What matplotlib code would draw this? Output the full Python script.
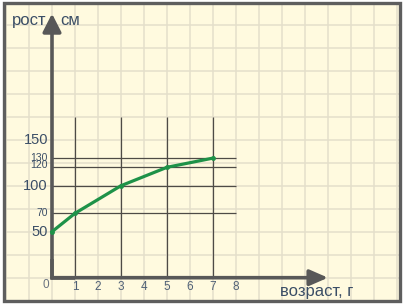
import matplotlib
matplotlib.use("Agg")
import matplotlib.pyplot as plt
from matplotlib.patches import Rectangle
from matplotlib.transforms import offset_copy
import numpy as np

# ---- data ----
ages = [0, 1, 3, 5, 7]
heights = [50, 70, 100, 120, 130]
x_ticks = [0, 1, 2, 3, 4, 5, 6, 7, 8]
y_ticks_big = [50, 100, 150]
y_ticks_small = [70, 120, 130]
guide_x = [1, 3, 5, 7]
guide_y = [70, 100, 120, 130]
x_label = "возраст, г"
y_label_left = "рост"
y_label_right = "см"

# ---- layout ----
W, H = 404, 304
ox, oy = 52, 277.7          # pixel position of origin (from top-left)
px_x = 23.0                 # pixels per year
px_y = 0.92                 # pixels per cm

plt.rcParams['font.family'] = ['Liberation Sans', 'DejaVu Sans']
fig = plt.figure(figsize=(W / 100, H / 100), dpi=100, facecolor='white')
ax = fig.add_axes([0, 0, 1, 1])
ax.set_xlim(-ox / px_x, (W - ox) / px_x)
ax.set_ylim(-(H - oy) / px_y, oy / px_y)
ax.axis('off')

cream = '#FFFADF'
gridc = '#E4DFCB'
frame_c = '#5E5E5E'
axis_c = '#585858'
guide_c = '#4E4B46'
text_c = '#3B4E66'
green = '#1E9248'

# background panel with frame (figure-pixel coordinates)
bg = Rectangle((3.5 / W, 3.5 / H), (W - 7.5) / W, (H - 6.5) / H,
               transform=fig.transFigure, facecolor=cream, edgecolor='none', zorder=0)
ax.add_patch(bg)
frame = Rectangle((3.5 / W, 3.5 / H), (W - 7.5) / W, (H - 6.5) / H,
                  transform=fig.transFigure, facecolor='none', edgecolor=frame_c,
                  linewidth=2.4, zorder=10, clip_on=False)
ax.add_patch(frame)

# paper grid
for gx in range(-2, 16):
    l = ax.axvline(gx, color=gridc, lw=1.1, zorder=1)
    l.set_clip_path(bg)
for gy in range(-25, 301, 25):
    l = ax.axhline(gy, color=gridc, lw=1.1, zorder=1)
    l.set_clip_path(bg)

# guide lines
ax.vlines(guide_x, 0, 175, color=guide_c, lw=0.9, zorder=2)
ax.hlines(guide_y, 0, 8, color=guide_c, lw=0.9, zorder=2)

# axes with arrows
ax.annotate('', xy=(0, 287), xytext=(0, 0),
            arrowprops=dict(arrowstyle='-|>,head_length=0.55,head_width=0.28', lw=2.6,
                            color=axis_c, shrinkA=0, shrinkB=0, mutation_scale=20),
            zorder=4)
ax.annotate('', xy=(12.0, 0), xytext=(0, 0),
            arrowprops=dict(arrowstyle='-|>,head_length=0.55,head_width=0.24', lw=2.6,
                            color=axis_c, shrinkA=0, shrinkB=0, mutation_scale=20),
            zorder=4)
ax.plot([0, 0, 1], [20, 0, 0], color=axis_c, lw=2.6, solid_joinstyle='miter',
        solid_capstyle='butt', zorder=4)

# data line
ax.plot(ages, heights, color=green, lw=2.3, zorder=5, marker='o', markersize=3.5,
        markeredgewidth=0)

# tick labels
for t in x_ticks:
    if t == 0:
        tr = offset_copy(ax.transData, fig=fig, x=-3, y=-7.5, units='dots')
        ax.text(t, 0, str(t), transform=tr, ha='right', va='center',
                fontsize=8.5, color='#6A7380')
    else:
        tr = offset_copy(ax.transData, fig=fig, x=0, y=-9.5, units='dots')
        ax.text(t, 0, str(t), transform=tr, ha='center', va='center',
                fontsize=8.5, color='#4F6075')

ytr = offset_copy(ax.transData, fig=fig, x=-4, y=0, units='dots')
for t in y_ticks_big:
    ax.text(0, t, str(t), transform=ytr, ha='right', va='center',
            fontsize=10.5, color=text_c)
for t in y_ticks_small:
    dy = 2.5 if t == 120 else 0
    tr = offset_copy(ax.transData, fig=fig, x=-4, y=dy, units='dots')
    ax.text(0, t, str(t), transform=tr, ha='right', va='center',
            fontsize=7.5, color=text_c)

# axis titles
ax.text(-0.98, 274.7, y_label_left, ha='center', va='baseline', fontsize=12, color=text_c)
ax.text(0.35, 274.7, y_label_right, ha='left', va='baseline', fontsize=12, color=text_c)
ax.text(9.9, -20.4, x_label, ha='left', va='baseline', fontsize=12, color=text_c)

fig.savefig('out.png', dpi=100, facecolor='white')
